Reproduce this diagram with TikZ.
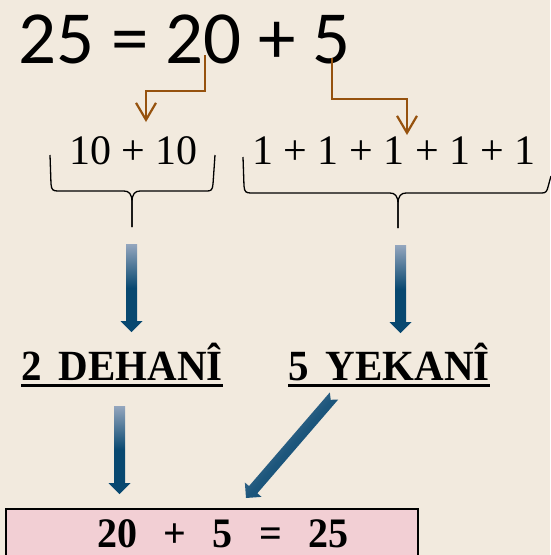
\documentclass[tikz,border=0pt]{standalone}
\usepackage{fontspec}
\setmainfont{Liberation Serif}
\newfontfamily\calib{Carlito}
\usetikzlibrary{arrows.meta,calc}
\definecolor{bg}{RGB}{242,234,222}
\definecolor{brn}{RGB}{150,82,14}
\definecolor{pinkbox}{RGB}{242,207,212}
\definecolor{bluelight}{RGB}{148,166,190}
\definecolor{bluedark}{RGB}{8,72,112}
\tikzset{
  brnarrow/.style={draw=brn,line width=2.2pt,-{Straight Barb[length=17pt,width=20pt,line width=2.2pt]}},
  bracepath/.style={draw=black,line width=1.3pt},
  numtext/.style={anchor=base west,inner sep=0pt,font=\fontsize{42}{48}\selectfont},
  lbltext/.style={anchor=base west,inner sep=0pt,font=\bfseries\fontsize{41}{48}\selectfont},
  vshade/.style={top color=bluelight,bottom color=bluedark,middle color=bluedark},
  dshade/.style={top color=bluelight!75!bluedark,bottom color=bluedark,middle color=bluedark!85!bluelight,shading angle=49},
}
\newcommand\blockarrow[4]{% tail, tip, shade style, notch depth
  \shade[#3]
    ($(#1)!5.5pt!90:(#2)$) --
    ($($(#2)!11pt!(#1)$)!5.5pt!-90:(#1)$) --
    ($($(#2)!11pt!(#1)$)!11pt!-90:(#1)$) --
    (#2) --
    ($($(#2)!11pt!(#1)$)!11pt!90:(#1)$) --
    ($($(#2)!11pt!(#1)$)!5.5pt!90:(#1)$) --
    ($(#1)!5.5pt!-90:(#2)$) -- ($(#1)!#4!(#2)$) -- cycle;
}
\begin{document}
\begin{tikzpicture}[x=1pt,y=-1pt]
\fill[bg] (0,0) rectangle (550,555);
\useasboundingbox (0,0) rectangle (550,555);

% top equation
\node[anchor=base west,inner sep=0pt,font=\calib\fontsize{75}{80}\selectfont] (eq) at (18,63) {25 = 20 + 5};
\coordinate (b1s) at (205,55);
\coordinate (b1e) at (146,122);
\coordinate (b2s) at (332,58);
\coordinate (b2e) at (407,135);
\draw[brnarrow] (b1s) -- ++(0,36) -| (b1e);
\draw[brnarrow] (b2s) -- ++(0,41) -| (b2e);

% sums
\node[numtext] (tens) at (69,164) {10 + 10};
\node[numtext] (ones) at (252,164) {1 + 1 + 1 + 1 + 1};

% braces
\coordinate (br1) at (132,227);
\coordinate (br2) at (398,228);
\draw[bracepath] (50,155) -- (51,184) .. controls (51.5,190) and (53,191) .. (58,191)
  -- (124,191) .. controls (129,191) and (132,194) .. (132,202) -- (br1);
\draw[bracepath] (br1) -- (132,202) .. controls (132,194) and (135,191) .. (140,191)
  -- (207,191) .. controls (211,191) and (212.5,190) .. (213,184) -- (215,155);
\draw[bracepath] (243,157) -- (244,186) .. controls (244.5,192) and (246,193) .. (251,193)
  -- (390,193) .. controls (395,193) and (398,196) .. (398,204) -- (br2);
\draw[bracepath] (br2) -- (398,204) .. controls (398,196) and (401,193) .. (406,193)
  -- (542,193) .. controls (546,193) and (547,191) .. (548,187) -- (551,176);

% labels
\node[lbltext] (deh) at (21,380) {\scalebox{1}[1.05]{2\hspace{0.42em}DEHANÎ}};
\node[lbltext] (yek) at (288,380) {\scalebox{1}[1.05]{5\hspace{0.42em}YEKANÎ}};
\draw[line width=3pt] ([yshift=-5pt]deh.base west) -- ([yshift=-5pt]deh.base east);
\draw[line width=3pt] ([yshift=-5pt]yek.base west) -- ([yshift=-5pt]yek.base east);

% blue arrows
\coordinate (a1t) at (131.5,244);
\coordinate (a1p) at (131.5,332);
\coordinate (a2t) at (400.5,245);
\coordinate (a2p) at (400.5,333);
\coordinate (a3t) at (119.5,406);
\coordinate (a3p) at (119.5,494);
\coordinate (a4t) at (334,396);
\coordinate (a4p) at (246,498);
\blockarrow{a1t}{a1p}{vshade}{0pt}
\blockarrow{a2t}{a2p}{vshade}{0pt}
\blockarrow{a3t}{a3p}{vshade}{0pt}
\blockarrow{a4t}{a4p}{dshade}{5pt}

% result box
\draw[fill=pinkbox,line width=1.5pt] (6,509) rectangle (418,560);
\node[lbltext,font=\bfseries\fontsize{40}{48}\selectfont] (res) at (97,547)
  {\scalebox{1}[1.05]{20\hspace{0.66em}+\hspace{0.66em}5\hspace{0.66em}=\hspace{0.66em}25}};
\end{tikzpicture}
\end{document}
